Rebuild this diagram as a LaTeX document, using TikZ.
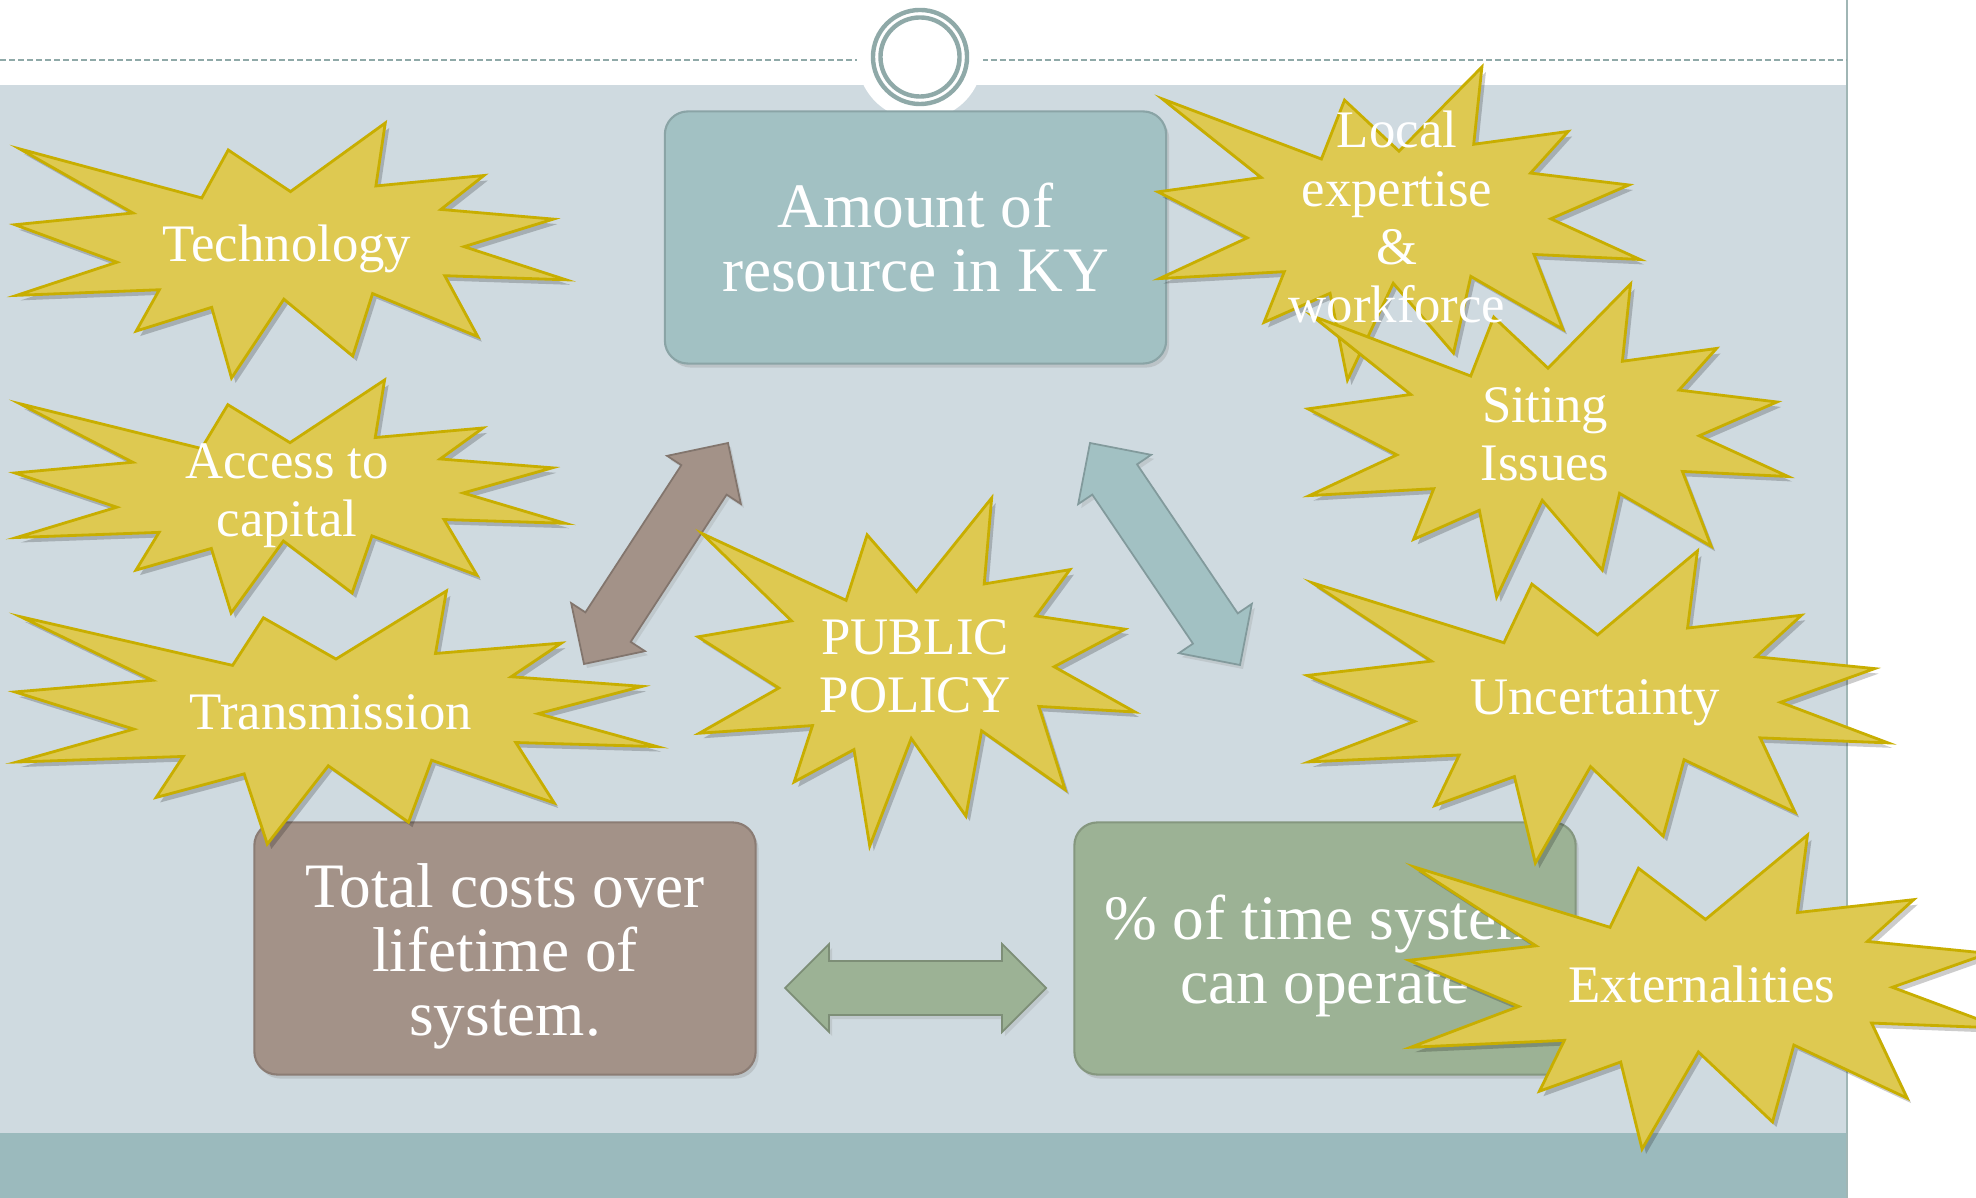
\documentclass[tikz,border=0pt]{standalone}
\usepackage{fontspec}
\setmainfont{Liberation Serif}
\usetikzlibrary{calc,positioning,shadows}

\definecolor{panel}{HTML}{CFDAE0}
\definecolor{band}{HTML}{9BBABD}
\definecolor{rim}{HTML}{8FA9A8}
\definecolor{burstfill}{HTML}{DEC951}
\definecolor{burstline}{HTML}{C8AE00}
\definecolor{tealbox}{HTML}{A2C1C3}
\definecolor{brownbox}{HTML}{A39288}
\definecolor{greenbox}{HTML}{9CB295}

\tikzset{
  bigbox/.style={draw=#1!85!black, fill=#1, rounded corners=0.23cm,
    minimum width=5.01cm, minimum height=2.52cm, line width=0.6pt,
    drop shadow={opacity=0.25, shadow xshift=0.03cm, shadow yshift=-0.04cm}},
  boxtext/.style={text=white, align=center, font=\fontsize{18}{18.2}\selectfont},
  bursttext/.style={text=white, align=center, font=\fontsize{15}{16.5}\selectfont},
  burst/.style={fill=burstfill, draw=burstline, line width=0.8pt, line join=miter},
  burstshadow/.style={fill=black, opacity=0.2},
  blockarrow/.style={fill=#1, draw=#1!80!black, line width=0.5pt,
    drop shadow={opacity=0.2, shadow xshift=0.03cm, shadow yshift=-0.04cm}}
}

\newcommand{\burstpath}{(0.500,0.269) -- (0.672,0) -- (0.655,0.247) -- (0.851,0.206)
  -- (0.773,0.339) -- (0.977,0.377) -- (0.815,0.485) -- (1,0.615) -- (0.780,0.599)
  -- (0.840,0.838) -- (0.649,0.669) -- (0.613,0.914) -- (0.488,0.691) -- (0.393,1)
  -- (0.357,0.723) -- (0.220,0.816) -- (0.262,0.654) -- (0.003,0.676) -- (0.185,0.546)
  -- (0,0.399) -- (0.214,0.353) -- (0.009,0.102) -- (0.339,0.294) -- (0.387,0.106) -- cycle}

\newcommand{\explosion}[4]{%
  \begin{scope}[shift={(#1+4,#2+5)},xscale=#3,yscale=#4]
    \fill[burstshadow] \burstpath;
  \end{scope}
  \begin{scope}[shift={(#1,#2)},xscale=#3,yscale=#4]
    \filldraw[burst] \burstpath;
  \end{scope}}

\newcommand{\dblarrow}[3]{%
  \filldraw[blockarrow=#3] (#1)
    -- ($(#1)!0.44cm!(#2)!0.44cm!90:(#2)$) -- ($(#1)!0.44cm!(#2)!0.27cm!90:(#2)$)
    -- ($(#2)!0.44cm!(#1)!0.27cm!-90:(#1)$) -- ($(#2)!0.44cm!(#1)!0.44cm!-90:(#1)$)
    -- (#2)
    -- ($(#2)!0.44cm!(#1)!0.44cm!90:(#1)$) -- ($(#2)!0.44cm!(#1)!0.27cm!90:(#1)$)
    -- ($(#1)!0.44cm!(#2)!0.27cm!-90:(#2)$) -- ($(#1)!0.44cm!(#2)!0.44cm!-90:(#2)$)
    -- cycle;}

\begin{document}
\begin{tikzpicture}[x=0.01cm,y=-0.01cm]
  \useasboundingbox (0,0) rectangle (1976,1198);
  \fill[white] (0,0) rectangle (1976,1198);
  \fill[panel] (0,85) rectangle (1846,1133);
  \fill[band] (0,1133) rectangle (1846,1198);
  \draw[rim!85, line width=0.6pt] (1847,0) -- (1847,1198);
  \draw[rim, line width=0.6pt, dash pattern=on 0.06cm off 0.03cm] (0,60) -- (1846,60);
  \fill[white] (920,57) circle[radius=0.63cm];
  \draw[rim, line width=1.25pt] (920,57) circle[radius=0.47cm];
  \draw[rim, line width=1.25pt] (920,57) circle[radius=0.395cm];

  \node[bigbox=tealbox] (amount) at (915.5,237.5) {};
  \node[bigbox=brownbox] (costs) at (505,948.5) {};
  \node[bigbox=greenbox] (uptime) at (1325,948.5) {};
  \node[boxtext] (amounttxt) at (amount.center) {Amount of\\resource in KY};
  \node[boxtext] (coststxt) at ([yshift=-0.075cm]costs.center) {Total costs over\\lifetime of\\system.};
  \node[boxtext] (uptimetxt) at ([yshift=-0.07cm]uptime.center) {\% of time system\\can operate};

  \coordinate (brownA) at (728,443);
  \coordinate (brownB) at (584,664);
  \coordinate (tealA) at (1090,443);
  \coordinate (tealB) at (1240,665);
  \coordinate (greenA) at (785,988);
  \coordinate (greenB) at (1046,988);
  \dblarrow{brownA}{brownB}{brownbox}
  \dblarrow{tealA}{tealB}{tealbox}
  \dblarrow{greenA}{greenB}{greenbox}

  \explosion{15}{123}{551}{255}
  \explosion{15}{380}{550}{233}
  \explosion{15}{591}{642}{253}
  \explosion{698}{498}{437}{348}
  \explosion{1158}{67}{482}{313}
  \explosion{1308}{284}{480}{313}
  \explosion{1307}{551}{581}{312}
  \explosion{1409}{835}{593}{314}

  \node[bursttext] (tech) at (287,249) {Technology};
  \node[bursttext] (capital) at (287,496) {Access to\\capital};
  \node[bursttext] (grid) at (331,712) {Transmission};
  \node[bursttext] (policy) at (915,666) {PUBLIC\\POLICY};
  \node[bursttext] (local) at (1397,217) {Local\\expertise\\\&\\workforce};
  \node[bursttext] (siting) at (1545,434) {Siting\\Issues};
  \node[bursttext] (doubt) at (1595,703) {Uncertainty};
  \node[bursttext] (extern) at (1702,984) {Externalities};
\end{tikzpicture}
\end{document}
